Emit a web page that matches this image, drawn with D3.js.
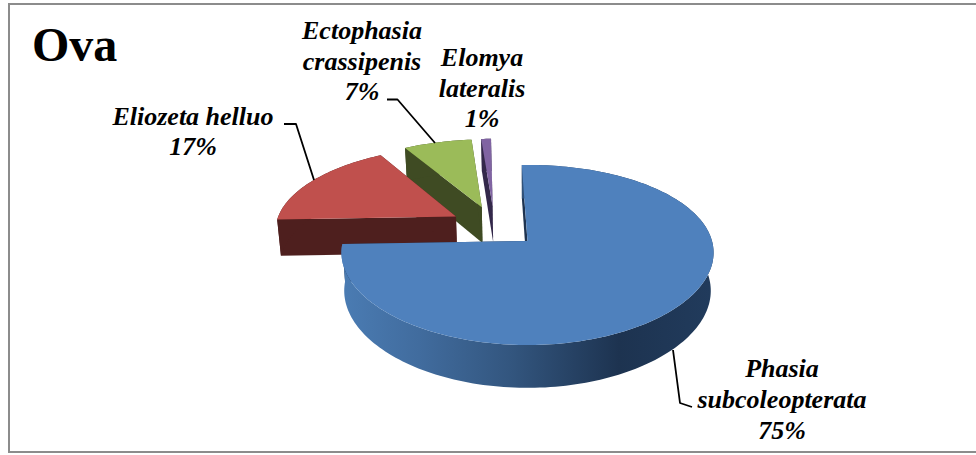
<!DOCTYPE html>
<html>
<head>
<meta charset="utf-8">
<style>
  html, body { margin: 0; padding: 0; background: #fff; overflow: hidden; }
  svg { display: block; }
  text { font-family: "Liberation Serif", serif; fill: #000; }
  .lab { font-weight: bold; font-style: italic; font-size: 26px; text-anchor: middle; }
</style>
</head>
<body>
<svg id="chart" width="976" height="455"></svg>
<script src="https://cdn.jsdelivr.net/npm/d3@7/dist/d3.min.js"></script>
<script>
// Species shares of the ova sample
const species = ["Phasia subcoleopterata", "Eliozeta helluo", "Ectophasia crassipenis", "Elomya lateralis"];
const shares = [75, 17, 7, 1];
const labelLines = [
  ["Phasia", "subcoleopterata", "75%"],
  ["Eliozeta helluo", "17%"],
  ["Ectophasia", "crassipenis", "7%"],
  ["Elomya", "lateralis", "1%"]
];
const labelX = [782, 193, 362, 482];
const labelY = [377, 125, 39, 66];
const labelGap = [31, 30, 30.5, 30.5];
const leaders = [
  [[673, 350], [680, 403], [692, 407]],
  [[284, 124], [296, 124], [314, 180]],
  [[387, 99.5], [397.5, 99.5], [435, 143]],
  []
];
const topColors = ["#4f81bd", "#c0504d", "#9bbb59", "#8064a2"];
const wallColors = ["#1e3350", "#4e1f1e", "#3f4b23", "#33284a"];

const svg = d3.select("#chart");
const defs = svg.append("defs");

// Horizontal shading along the rim of the main slice
const grad = defs.append("linearGradient").attr("id", "rimShade")
  .attr("gradientUnits", "userSpaceOnUse")
  .attr("x1", 346).attr("x2", 710).attr("y1", 0).attr("y2", 0);
[[0, "#4a7bb2"], [0.2, "#416c9e"], [0.45, "#33567f"], [0.75, "#1d3350"], [1, "#213b5c"]]
  .forEach(([o, c]) => grad.append("stop").attr("offset", o).attr("stop-color", c));

// Chart frame; its right side runs off the page
svg.append("rect").attr("x", 9).attr("y", 4).attr("width", 975).attr("height", 448)
  .attr("fill", "#fff").attr("stroke", "#8c8c8c").attr("stroke-width", 2);

// Perspective projection of the tilted disc: u points right, v points at the viewer
const perspX = 0.13, perspY = 0.155, explode = 0.25, depth = 37.5, lowerScale = 0.985;
const sx = d3.scaleLinear().domain([-1, 1]).range([527.5 - 184.5, 527.5 + 184.5]);
const sy = d3.scaleLinear().domain([-1, 1]).range([241 - 87.9, 241 + 87.9]);
const project = (u, v, lower) => {
  const s = 1 / (1 - perspY * v), sh = 1 / (1 - perspX * v), k = lower ? lowerScale : 1;
  return [sx(u * sh * k), sy(v * s * k) + (lower ? depth * s : 0)];
};

const pie = d3.pie().sort(null)
  .startAngle(-2 * Math.PI / 180)
  .endAngle(358 * Math.PI / 180);
const arcs = pie(shares);
const line = d3.line();

// Whole-pie centre sits behind the main slice's apex; every slice is pushed out from it
const mainMid = (arcs[0].startAngle + arcs[0].endAngle) / 2;
const originU = -explode * Math.sin(mainMid);
const originV = explode * Math.cos(mainMid);

const slices = svg.append("g");
arcs.map((a, i) => ({ a, i })).reverse().forEach(({ a, i }) => {
  const mid = (a.startAngle + a.endAngle) / 2;
  const au = originU + explode * Math.sin(mid);
  const av = originV - explode * Math.cos(mid);
  const n = Math.max(4, Math.ceil((a.endAngle - a.startAngle) * 40));
  const angles = d3.range(n + 1).map(j => a.startAngle + (a.endAngle - a.startAngle) * j / n);
  const rim = t => [au + Math.sin(t), av - Math.cos(t)];
  const upper = angles.map(t => project(...rim(t), false));
  const lower = angles.map(t => project(...rim(t), true));
  const apexU = project(au, av, false), apexL = project(au, av, true);
  const g = slices.append("g").attr("class", "slice").attr("data-name", species[i]);
  const wall = wallColors[i];

  // Radial faces, then the outer rim, then the top surface
  g.append("path").attr("d", line([apexU, upper[0], lower[0], apexL]) + "Z").attr("fill", wall);
  g.append("path").attr("d", line([apexU, upper[n], lower[n], apexL]) + "Z").attr("fill", wall);
  g.append("path").attr("d", line(upper.concat(lower.slice().reverse())) + "Z")
    .attr("fill", i === 0 ? "url(#rimShade)" : wall);
  g.append("path").attr("d", line([apexU].concat(upper)) + "Z").attr("fill", topColors[i]);
});

// Leader lines
leaders.filter(l => l.length).forEach(l => {
  svg.append("path").attr("d", line(l)).attr("fill", "none")
    .attr("stroke", "#000").attr("stroke-width", 1.8).attr("stroke-linejoin", "round");
});

// Slice labels
labelLines.forEach((lines, i) => {
  const t = svg.append("text").attr("class", "lab");
  lines.forEach((s, j) => {
    t.append("tspan").attr("x", labelX[i]).attr("y", labelY[i] + j * labelGap[i]).text(s);
  });
});

// Chart title
svg.append("text").attr("x", 32).attr("y", 61)
  .attr("font-size", 48).attr("font-weight", "bold").text("Ova");
</script>
</body>
</html>
